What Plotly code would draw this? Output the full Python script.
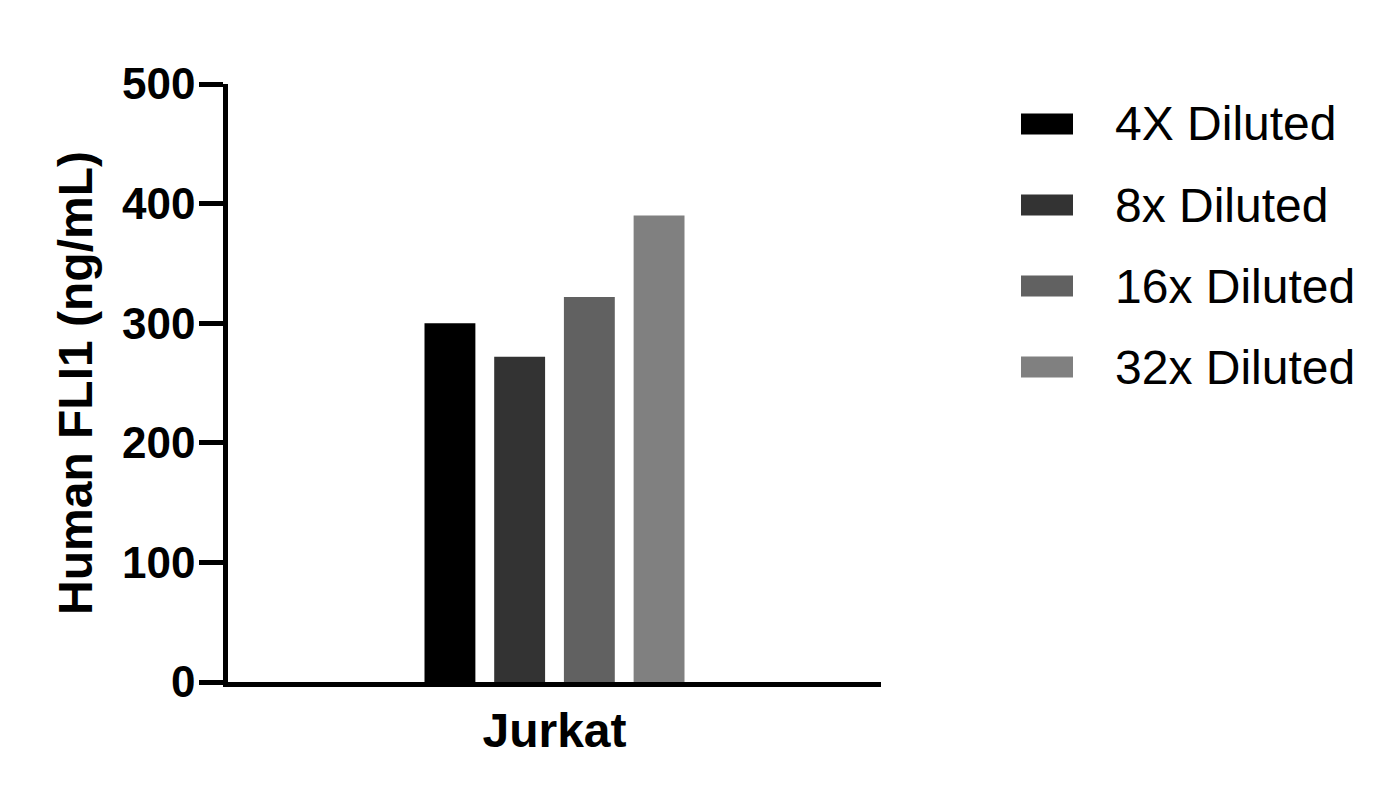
import plotly.graph_objects as go

categories = ['Jurkat']
series_names = ['4X Diluted', '8x Diluted', '16x Diluted', '32x Diluted']
series_values = [[300], [272], [322], [390]]
series_colors = ['#000000', '#333333', '#616161', '#808080']
y_ticks = [0, 100, 200, 300, 400, 500]

FONT = 'Arial, Liberation Sans, sans-serif'

# page has an 8px body margin, so the figure is sized to fit inside the window
W, H = 1389, 796
L, T, PW, PH = 220, 76, 653, 598
OFF = 8

fig = go.Figure()
for name, vals, col in zip(series_names, series_values, series_colors):
    fig.add_trace(go.Bar(
        x=categories, y=vals, name=name,
        marker=dict(color=col, line=dict(width=0)),
        showlegend=False
    ))

# legend drawn by hand so the swatches can be wide rectangles like the original
leg_x0, leg_w, leg_h = 1021, 52, 21
leg_y0, leg_step = 124, 81
px0 = OFF + L
py0 = OFF + T + PH
for i, (name, col) in enumerate(zip(series_names, series_colors)):
    yc = leg_y0 + i * leg_step
    fig.add_shape(type='rect', xref='paper', yref='paper',
                  x0=(leg_x0 - px0) / PW, x1=(leg_x0 + leg_w - px0) / PW,
                  y0=(py0 - yc - leg_h / 2) / PH, y1=(py0 - yc + leg_h / 2) / PH,
                  fillcolor=col, line=dict(width=0))
    fig.add_annotation(text=name, xref='paper', yref='paper',
                       x=(1113 - px0) / PW, y=(py0 - yc) / PH,
                       xanchor='left', yanchor='middle', showarrow=False,
                       font=dict(family=FONT, size=48, color='black'))

fig.update_layout(
    width=W, height=H,
    margin=dict(l=L, r=W - L - PW, t=T, b=H - T - PH),
    paper_bgcolor='white', plot_bgcolor='white',
    barmode='group', bargap=0.573, bargroupgap=0.27,
    font=dict(family=FONT, color='black'),
)
fig.update_xaxes(
    showline=True, linecolor='black', linewidth=5,
    showgrid=False, zeroline=False, ticks='',
    tickfont=dict(family=FONT, size=48, color='black', weight='bold'),
    ticklabelstandoff=2,
)
fig.update_yaxes(
    range=[0, 500], tickvals=y_ticks,
    showline=True, linecolor='black', linewidth=4.5,
    showgrid=False, zeroline=False,
    ticks='outside', ticklen=24, tickwidth=4.5, tickcolor='black',
    tickfont=dict(family=FONT, size=44, color='black', weight='bold'),
    ticklabelstandoff=-5,
    title=dict(text='Human FLI1 (ng/mL)', standoff=16,
               font=dict(family=FONT, size=48, color='black', weight='bold')),
)

fig.write_html('out.html')
